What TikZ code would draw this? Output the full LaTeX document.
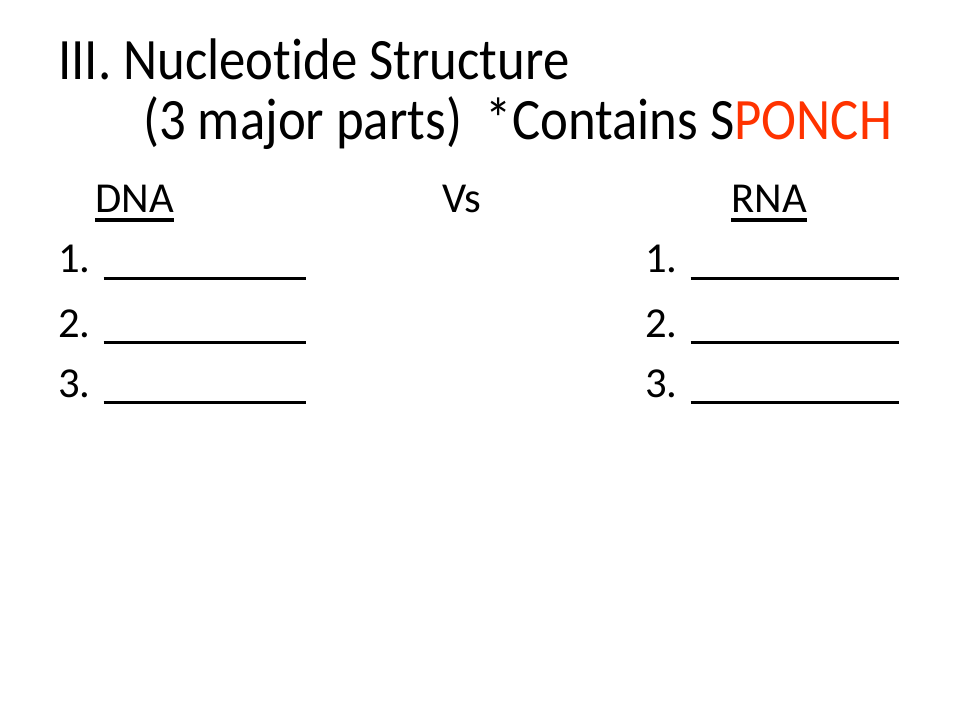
\documentclass[tikz,border=0pt]{standalone}
\usepackage{fontspec}
\setmainfont[Ligatures=NoCommon]{Carlito}
\newfontfamily\titlefont[FakeStretch=0.9,Ligatures=NoCommon]{Carlito}
\usepackage{xcolor}
\definecolor{sponchred}{HTML}{FF3300}

\begin{document}
\begin{tikzpicture}[x=0.75pt,y=-0.75pt,
    title/.style={anchor=base west, inner sep=0pt, font=\titlefont\fontsize{44}{53}\selectfont},
    body/.style={anchor=base west, inner sep=0pt, font=\fontsize{32}{38}\selectfont},
    rule/.style={line width=2.4pt}]
    % Frame
    \useasboundingbox[fill=white] (0,0) rectangle (960,720);

    % Title
    \node[title] (t1) at (58,80) {III. Nucleotide Structure};
    \node[title] (t2) at (143,140) {(3 major parts)\ \ *Contains S\textcolor{sponchred}{PONCH}};

    % Column heads
    \node[body] (dna) at (95,213) {DNA};
    \node[body] (vs) at (442,213) {Vs};
    \node[body] (rna) at (731,213) {RNA};
    \draw[rule] ([yshift=-5.25pt]dna.base west) -- ([yshift=-5.25pt]dna.base east);
    \draw[rule] ([yshift=-5.25pt]rna.base west) -- ([yshift=-5.25pt]rna.base east);

    % Blanks
    \foreach \n/\y in {1/273,2/337,3/397} {
        \node[body] (dna\n) at (58,\y) {\n. \rule[-0.17em]{152pt}{0.085em}};
        \node[body] (rna\n) at (645,\y) {\n. \rule[-0.17em]{156pt}{0.075em}};
    }
\end{tikzpicture}
\end{document}
